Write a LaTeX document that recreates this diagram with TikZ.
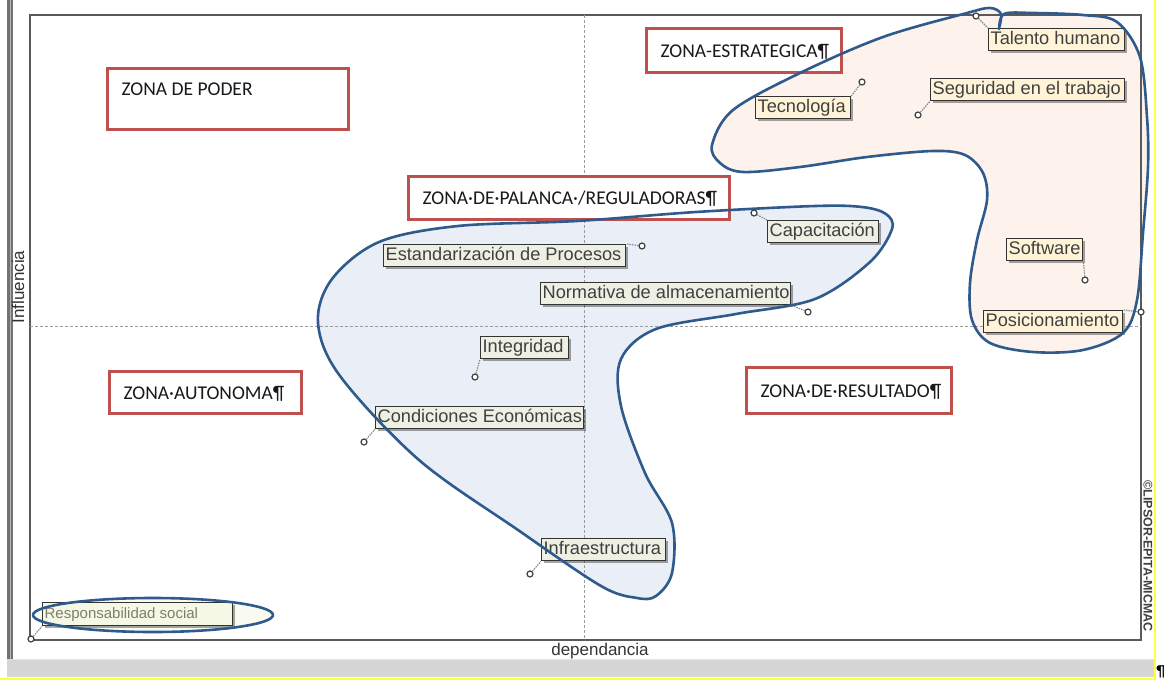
\documentclass[tikz,border=0pt]{standalone}
\usepackage{fontspec}
\setmainfont{Liberation Sans}
\newfontfamily\zonefamily{Carlito}
\usetikzlibrary{shadows}

\definecolor{zonered}{HTML}{C0504D}
\definecolor{blobline}{HTML}{2E5A8C}
\definecolor{warmfill}{HTML}{FDF2EC}
\definecolor{coolfill}{HTML}{E9EEF7}
\definecolor{tagfill}{HTML}{FFF4D8}
\definecolor{cooltag}{HTML}{EDF0E2}
\definecolor{softtag}{HTML}{F6F8E6}
\definecolor{tagline}{HTML}{333333}
\definecolor{tagtext}{HTML}{404040}
\definecolor{softtext}{HTML}{7E7E6C}
\definecolor{gridgray}{HTML}{9A9A9A}
\definecolor{framegray}{HTML}{5A5A5A}
\definecolor{barshade}{HTML}{D6D6D6}
\definecolor{edgeyellow}{HTML}{FFFF40}

% a boxed variable label: [extra style] name, left, top, inner width, text
\newcommand\mktag[6][]{\node[tag,#1] (#2) at (#3,#4) {\makebox[#5pt][l]{#6}};}
% a red zone box: name, left, top, inner width, height, text
\newcommand\mkzone[6]{\node[zone, minimum height=#5pt] (#1) at (#2,#3) {\makebox[#4pt][l]{#6}};}

\begin{document}
\begin{tikzpicture}[x=1pt,y=-1pt,
  zone/.style={draw=zonered, line width=3pt, fill=white, anchor=north west,
    inner xsep=14pt, inner ysep=0pt, text height=13pt, text depth=0pt,
    font=\zonefamily\fontsize{19.5}{22}\selectfont, text=black!90},
  tag/.style={draw=tagline, line width=1.3pt, fill=tagfill, anchor=north west,
    inner xsep=2pt, inner ysep=0pt, text height=13.5pt, text depth=4pt,
    minimum height=22pt, font=\fontsize{18.2}{20}\selectfont, text=tagtext,
    drop shadow={shadow xshift=2pt, shadow yshift=-2pt, fill=black, opacity=0.35}},
  cool/.style={fill=cooltag},
  pt/.style={circle, draw=black!75, fill=white, line width=1.2pt, inner sep=0pt, minimum size=6pt},
  lead/.style={draw=gray!90, line width=1.2pt, dash pattern=on 1.5pt off 1pt},
  quad/.style={draw=gridgray, line width=0.9pt, dash pattern=on 3pt off 2pt},
  blob/.style={draw=blobline, line width=2.6pt, line join=round},
]
\fill[white] (0,0) rectangle (1164,680);
\useasboundingbox (0,0) rectangle (1164,680);

% outlines of the two groups, shared by the fill and the stroke
\def\warmblob{plot[smooth cycle, tension=0.55] coordinates {
  (967,13) (990,8) (1001,14) (999,29) (1004,14) (1033,13) (1083,15) (1117,22)
  (1140,57) (1147,117) (1148,167) (1143,233) (1137,300) (1123,333) (1083,350)
  (1033,352) (990,343) (972,320) (970,283) (977,240) (987,200) (983,173)
  (965,155) (933,151) (867,157) (800,167) (743,172) (720,163) (712,145)
  (733,110) (800,73) (883,37)}}
\def\coolblob{plot[smooth cycle, tension=0.55] coordinates {
  (886,214) (892,229) (870,262) (815,299) (736,314) (656,329) (621,359)
  (621,406) (645,473) (672,523) (672,573) (656,596) (637,598) (601,586)
  (518,530) (419,460) (340,376) (318,323) (332,279) (379,242) (458,226)
  (577,221) (696,212) (815,206) (862,207)}}

% window chrome
\fill[black!55] (7,0) rectangle (13,660);
\fill[black!30] (9.5,0) rectangle (10.5,660);
\fill[barshade] (7,659) rectangle (1154,677);
\draw[white!90!black, line width=1pt] (13,659.5) -- (1154,659.5);
\draw[edgeyellow, line width=1.5pt] (1155,0) -- (1155,680);
\draw[edgeyellow, line width=1.5pt] (0,679) -- (1155,679);
\node[font=\zonefamily\fontsize{16}{18}\selectfont, inner sep=0pt] (pilcrow) at (1161,672) {¶};

% group fills
\fill[warmfill] \warmblob;
\fill[coolfill] \coolblob;
\fill[softtag!60!white] (153,615) ellipse [x radius=120pt, y radius=17pt];

% plot frame and quadrant lines
\draw[framegray, line width=1.8pt] (30,15) rectangle (1141,640);
\coordinate (vtop) at (584,15);
\coordinate (vbot) at (584,640);
\coordinate (hl) at (30,326);
\coordinate (hr) at (1141,326);
\draw[quad] (vtop) -- (vbot);
\draw[quad] (hl) -- (hr);

% axis captions
\node[font=\fontsize{17}{20}\selectfont, text=black!80] (xcap) at (600,651) {dependancia};
\node[font=\fontsize{17}{20}\selectfont, text=black!80, rotate=90] (ycap) at (18,287) {Influencia};
\node[font=\bfseries\fontsize{12.5}{14}\selectfont, text=black!75, rotate=-90] (copy) at (1148,556) {©LIPSOR-EPITA-MICMAC};

% zone boxes
\node[zone, minimum height=61pt, text height=27pt, text depth=34pt] (zpoder) at (106,67) {\makebox[213pt][l]{ZONA DE PODER}};
\mkzone{zestr}{645}{27}{167}{44}{ZONA-ESTRATEGICA¶}
\mkzone{zpal}{407}{175}{293}{43}{ZONA·DE·PALANCA·/REGULADORAS¶}
\mkzone{zaut}{108}{370}{164}{42}{ZONA·AUTONOMA¶}
\mkzone{zres}{745}{366}{177}{46}{ZONA·DE·RESULTADO¶}

% variable labels
\mktag{ttal}{988}{28}{132}{Talento humano}
\mktag{tseg}{930}{78}{190}{Seguridad en el trabajo}
\mktag{ttec}{755}{96}{91}{Tecnología}
\mktag[cool]{tcap}{767}{220}{107}{Capacitación}
\mktag[cool]{test}{383}{244}{238}{Estandarización de Procesos}
\mktag[cool]{tnor}{540}{282}{246}{Normativa de almacenamiento}
\mktag[cool]{tint}{480}{336}{84}{Integridad}
\mktag[cool]{tcon}{375}{406}{204}{Condiciones Económicas}
\mktag[cool]{tinf}{541}{538}{120}{Infraestructura}
\mktag{tsof}{1006}{238}{72}{Software}
\mktag{tpos}{983}{310}{135}{Posicionamiento}
\node[tag, font=\fontsize{15}{17}\selectfont, text=softtext, fill=softtag, text height=11pt, text depth=3pt, minimum height=23pt] (tres) at (42,602) {\makebox[186pt][l]{Responsabilidad social}};

% variable positions
\node[pt] (ptal) at (976,16) {};
\node[pt] (pseg) at (918,115) {};
\node[pt] (ptec) at (862,82) {};
\node[pt] (pcap) at (754,213) {};
\node[pt] (pest) at (642,246) {};
\node[pt] (pnor) at (808,312) {};
\node[pt] (pint) at (475,377) {};
\node[pt] (pcon) at (364,442) {};
\node[pt] (pinf) at (530,574) {};
\node[pt] (psof) at (1085,280) {};
\node[pt] (ppos) at (1141,312) {};
\node[pt] (pres) at (31,639) {};

% leaders from positions to labels
\draw[lead] (ptal) -- (ttal.north west);
\draw[lead] (pseg) -- (tseg.south west);
\draw[lead] (ptec) -- (ttec.north east);
\draw[lead] (pcap) -- (tcap.north west);
\draw[lead] (pest) -- (test.north east);
\draw[lead] (pnor) -- (tnor.south east);
\draw[lead] (pint) -- (tint.south west);
\draw[lead] (pcon) -- (tcon.south west);
\draw[lead] (pinf) -- (tinf.south west);
\draw[lead] (psof) -- (tsof.south east);
\draw[lead] (ppos) -- (tpos.north east);
\draw[lead] (pres) -- (tres.south west);

% group outlines, stroked over everything
\draw[blob] \warmblob;
\draw[blob] \coolblob;
\draw[blob] (153,615) ellipse [x radius=120pt, y radius=17pt];
\end{tikzpicture}
\end{document}
